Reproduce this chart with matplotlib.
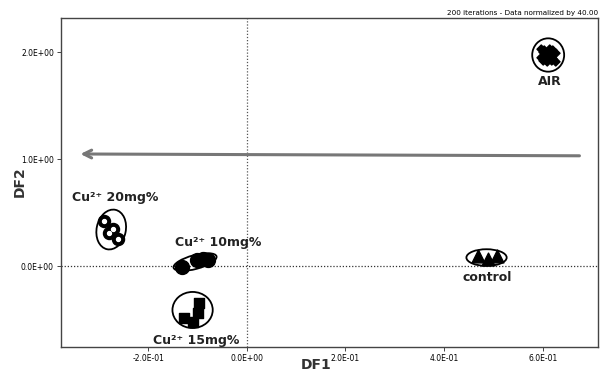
import matplotlib.pyplot as plt
from matplotlib.patches import Ellipse
from matplotlib.transforms import ScaledTranslation
from matplotlib.ticker import FuncFormatter

# group scores (DF1, DF2)
air_x = [0.604, 0.616, 0.610, 0.608]
air_y = [1.99, 1.95, 1.98, 1.96]
ctrl_x = [0.469, 0.489, 0.507]
ctrl_y = [0.093, 0.065, 0.093]
cu10_x = [-0.132, -0.101, -0.089, -0.079]
cu10_y = [-0.009, 0.056, 0.065, 0.056]
cu15_x = [-0.128, -0.110, -0.099, -0.097]
cu15_y = [-0.486, -0.523, -0.439, -0.346]
cu20_x = [-0.289, -0.272, -0.280, -0.262]
cu20_y = [0.42, 0.35, 0.31, 0.25]

# group ellipses: center, width/height (pt), angle
ell_center = [(0.611, 1.972), (0.486, 0.079), (-0.105, 0.037), (-0.110, -0.411), (-0.275, 0.341)]
ell_size = [(23, 24), (29, 12), (32, 10), (29, 26), (21, 29)]
ell_angle = [0, 0, 15, 0, -12]

labels = ["AIR", "control", "Cu²⁺ 10mg%", "Cu²⁺ 15mg%", "Cu²⁺ 20mg%"]
label_pos = [(0.615, 1.72), (0.487, -0.112), (-0.058, 0.224), (-0.102, -0.692), (-0.267, 0.636)]

arrow_start = (0.68, 1.03)
arrow_end = (-0.343, 1.047)

xticks = [-0.2, 0.0, 0.2, 0.4, 0.6]
yticks = [0.0, 1.0, 2.0]

fig = plt.figure(figsize=(6.03, 3.81), dpi=100)
ax = fig.add_axes([0.101, 0.0892, 0.8907, 0.8636])
ax.set_xlim(-0.377, 0.712)
ax.set_ylim(-0.757, 2.318)

ax.axvline(0, color="#555555", ls=(0, (1, 1.5)), lw=0.9, zorder=1)
ax.axhline(0, color="#333333", ls=(0, (1, 1.5)), lw=0.9, zorder=1)

ax.scatter(air_x, air_y, marker="X", s=150, color="black", zorder=3)
ax.scatter(ctrl_x, ctrl_y, marker="^", s=85, color="black", zorder=3)
ax.scatter(cu10_x, cu10_y, marker="o", s=100, color="black", zorder=3)
ax.scatter(cu15_x, cu15_y, marker="s", s=60, color="black", zorder=3)
ax.scatter(cu20_x, cu20_y, marker="o", s=75, color="black", zorder=3)
ax.scatter(cu20_x, cu20_y, marker="o", s=8, color="white", zorder=4)

for c, (w, h), a in zip(ell_center, ell_size, ell_angle):
    tr = fig.dpi_scale_trans + ScaledTranslation(c[0], c[1], ax.transData)
    e = Ellipse((0, 0), w / 72, h / 72, angle=a, transform=tr,
                fill=False, ec="black", lw=1.3, zorder=5)
    ax.add_patch(e)

for t, p in zip(labels, label_pos):
    ax.text(p[0], p[1], t, ha="center", va="center", fontsize=9,
            fontweight="bold", color="#222222", zorder=6)

ax.annotate("", xy=arrow_end, xytext=arrow_start,
            arrowprops=dict(arrowstyle="->", color="#777777", lw=2.2,
                            mutation_scale=14))

ax.set_xticks(xticks)
ax.set_yticks(yticks)
fmt = FuncFormatter(lambda v, pos: f"{v:.1E}")
ax.xaxis.set_major_formatter(fmt)
ax.yaxis.set_major_formatter(fmt)
ax.tick_params(labelsize=5.5, length=3, width=0.7, color="#444444", pad=2)
for lab in ax.get_xticklabels() + ax.get_yticklabels():
    lab.set_family(["Liberation Sans Narrow", "DejaVu Sans"])
for s in ax.spines.values():
    s.set_color("#444444")
    s.set_linewidth(1.0)

fig.text(0.525, 0.042, "DF1", ha="center", va="center", fontsize=10,
         fontweight="bold", color="#333333")
fig.text(0.033, 0.522, "DF2", ha="center", va="center", rotation=90,
         fontsize=10, fontweight="bold", color="#333333")
fig.text(0.9917, 0.966, "200 iterations - Data normalized by 40.00", ha="right",
         va="center", fontsize=5.2, family=["Liberation Sans Narrow", "DejaVu Sans"])

fig.savefig("out.png", dpi=100)
